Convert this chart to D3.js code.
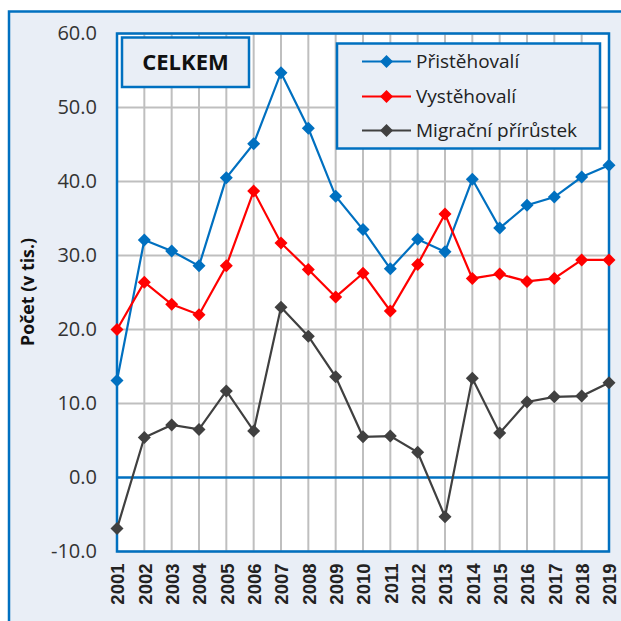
<!DOCTYPE html>
<html><head><meta charset="utf-8">
<script src="https://cdn.jsdelivr.net/npm/d3@7"></script>
<style>html,body{margin:0;padding:0;background:#fff;}svg{display:block;}</style>
</head><body>
<svg id="chart" width="621" height="621"></svg>
<script>
const years = [2001,2002,2003,2004,2005,2006,2007,2008,2009,2010,2011,2012,2013,2014,2015,2016,2017,2018,2019];
const pristehovali = [13.1,32.1,30.6,28.6,40.5,45.1,54.7,47.2,38.0,33.5,28.2,32.2,30.5,40.3,33.7,36.8,37.9,40.6,42.2];
const vystehovali = [20.0,26.4,23.4,22.0,28.6,38.7,31.7,28.1,24.4,27.6,22.5,28.8,35.6,26.9,27.5,26.5,26.9,29.4,29.4];
const prirustek = [-6.9,5.4,7.1,6.5,11.7,6.3,23.0,19.1,13.6,5.5,5.6,3.4,-5.3,13.4,6.0,10.2,10.9,11.0,12.8];
const yTicks = [-10,0,10,20,30,40,50,60];
const seriesNames = ["Přistěhovalí","Vystěhovalí","Migrační přírůstek"];
const seriesColors = ["#0070C0","#FF0000","#404040"];
const yTitle = "Počet (v tis.)";
const boxTitle = "CELKEM";

const series = [pristehovali, vystehovali, prirustek];
const svg = d3.select("#chart");
const L = 117, R = 609, T = 33.5, B = 551.5;

// outer frame
svg.append("rect").attr("x",9).attr("y",11.5).attr("width",640).attr("height",640)
  .attr("fill","#E9EEF6").attr("stroke","#0070C0").attr("stroke-width",2.5);

const x = d3.scalePoint().domain(years).range([L,R]);
const y = d3.scaleLinear().domain([-10,60]).range([B,T]);
const loc = d3.formatLocale({decimal:".",thousands:",",grouping:[3],currency:["",""],minus:"-"});
const fmt = loc.format(".1f");

svg.append("rect").attr("x",L).attr("y",T).attr("width",R-L).attr("height",B-T).attr("fill","#fff");

// grid
const g = svg.append("g");
g.selectAll("line.v").data(years).join("line")
  .attr("x1",d=>x(d)).attr("x2",d=>x(d)).attr("y1",T).attr("y2",B)
  .attr("stroke","#BFBFBF").attr("stroke-width",2);
g.selectAll("line.h").data(yTicks.filter(d=>d!==0)).join("line")
  .attr("x1",L).attr("x2",R).attr("y1",d=>y(d)).attr("y2",d=>y(d))
  .attr("stroke","#BFBFBF").attr("stroke-width",2);

// y axis
const ya = svg.append("g").attr("transform",`translate(${L},0)`)
  .call(d3.axisLeft(y).tickValues(yTicks).tickFormat(fmt).tickSize(0).tickPadding(20));
ya.select(".domain").remove();
ya.selectAll("text").attr("font-family","Open Sans").attr("font-size",20).attr("fill","#333");

// x axis
const xa = svg.append("g").attr("transform",`translate(0,${B})`)
  .call(d3.axisBottom(x).tickSize(0).tickPadding(0));
xa.select(".domain").remove();
xa.selectAll("text").attr("font-family","Liberation Sans").attr("font-weight","bold")
  .attr("font-size",18.5).attr("fill","#222")
  .attr("transform","rotate(-90)").attr("text-anchor","end")
  .attr("x",-12).attr("y",0).attr("dy","0.36em");

// zero line and border
svg.append("line").attr("x1",L).attr("x2",R).attr("y1",y(0)).attr("y2",y(0))
  .attr("stroke","#0070C0").attr("stroke-width",2.5);
svg.append("rect").attr("x",L).attr("y",T).attr("width",R-L).attr("height",B-T)
  .attr("fill","none").attr("stroke","#0070C0").attr("stroke-width",2.5);

// y title
svg.append("text").attr("transform","translate(34,292) rotate(-90)")
  .attr("text-anchor","middle").attr("font-family","Open Sans").attr("font-weight","bold")
  .attr("font-size",17.8).attr("fill","#111").text(yTitle);

// series
const diamond = "M0,-6.5L6.5,0L0,6.5L-6.5,0Z";
const line = d3.line().x((d,i)=>x(years[i])).y(d=>y(d));
series.forEach((s,k)=>{
  svg.append("path").attr("d",line(s)).attr("fill","none")
    .attr("stroke",seriesColors[k]).attr("stroke-width",2.2);
  svg.append("g").selectAll("path").data(s).join("path")
    .attr("d",diamond).attr("transform",(d,i)=>`translate(${x(years[i])},${y(d)})`)
    .attr("fill",seriesColors[k]);
});

// CELKEM box
svg.append("rect").attr("x",122).attr("y",37.5).attr("width",127).attr("height",49.5)
  .attr("fill","#E9EEF6").attr("stroke","#0070C0").attr("stroke-width",2.5);
svg.append("text").attr("x",185.5).attr("y",62).attr("dy","0.35em").attr("text-anchor","middle")
  .attr("font-family","Open Sans").attr("font-weight","bold").attr("font-size",22)
  .attr("fill","#111").text(boxTitle);

// legend
svg.append("rect").attr("x",337).attr("y",43.5).attr("width",263).attr("height",105)
  .attr("fill","#E9EEF6").attr("stroke","#0070C0").attr("stroke-width",2.5);
const rowsY = [61.5,96.5,130.5];
seriesNames.forEach((n,k)=>{
  svg.append("line").attr("x1",362).attr("x2",411).attr("y1",rowsY[k]).attr("y2",rowsY[k])
    .attr("stroke",seriesColors[k]).attr("stroke-width",2.2);
  svg.append("path").attr("d",diamond).attr("transform",`translate(386.5,${rowsY[k]})`)
    .attr("fill",seriesColors[k]);
  svg.append("text").attr("x",416).attr("y",rowsY[k]).attr("dy","0.35em")
    .attr("font-family","Open Sans").attr("font-size",19).attr("fill","#222").text(n);
});
</script>
</body></html>
